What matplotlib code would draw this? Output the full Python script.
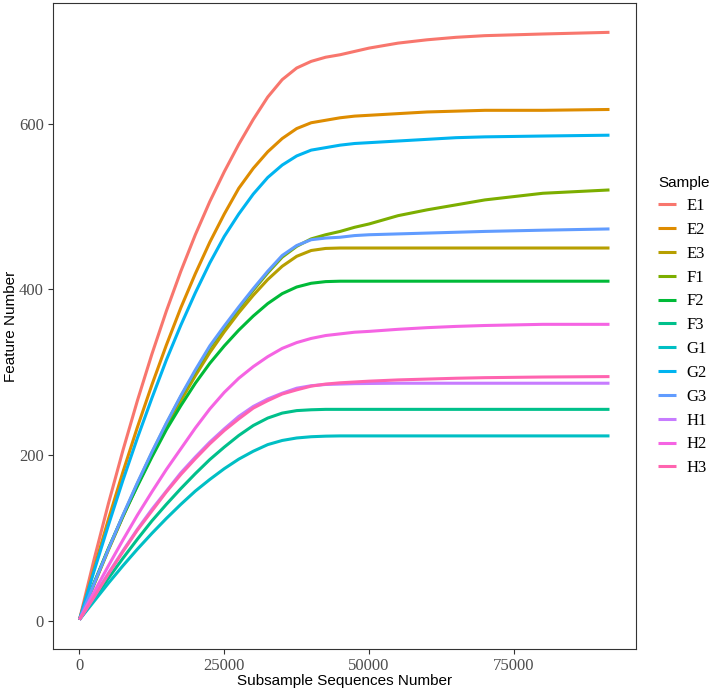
import matplotlib
matplotlib.use("Agg")
import matplotlib.pyplot as plt

# subsample depth (x) shared by every sample
depth = [0, 2500, 5000, 7500, 10000, 12500, 15000, 17500, 20000, 22500, 25000,
         27500, 30000, 32500, 35000, 37500, 40000, 42500, 45000, 47500, 50000,
         55000, 60000, 65000, 70000, 80000, 91500]

samples = ["E1", "E2", "E3", "F1", "F2", "F3", "G1", "G2", "G3", "H1", "H2", "H3"]

E1 = [2, 74, 142, 206, 266, 322, 374, 422, 466, 506, 542, 575, 605, 632, 653, 667, 675,
      680, 683, 687, 691, 697, 701, 704, 706, 708, 710]
E2 = [2, 63, 123, 180, 234, 285, 333, 378, 419, 457, 491, 522, 546, 566, 582, 594, 601,
      604, 607, 609, 610, 612, 614, 615, 616, 616, 617]
E3 = [2, 44, 86, 126, 164, 200, 234, 266, 296, 324, 349, 372, 393, 412, 428, 440, 447,
      449.5, 450, 450, 450, 450, 450, 450, 450, 450, 450]
F1 = [2, 45, 87, 127, 166, 203, 238, 271, 301, 330, 354, 377, 399, 420, 439, 452, 461,
      466, 470, 475, 479, 489, 496, 502, 508, 516, 520]
F2 = [2, 46, 88, 127, 163, 198, 231, 260, 287, 311, 332, 351, 368, 383, 395, 403, 407.5,
      409.5, 410, 410, 410, 410, 410, 410, 410, 410, 410]
F3 = [2, 27, 52, 76, 99, 121, 141, 160, 178, 195, 210, 224, 236, 245, 251, 254, 255,
      255.5, 255.5, 255.5, 255.5, 255.5, 255.5, 255.5, 255.5, 255.5, 255.5]
G1 = [2, 24, 46, 67, 87, 106, 124, 141, 157, 171, 184, 195.5, 205, 213, 218, 221, 222.5,
      223.2, 223.5, 223.5, 223.5, 223.5, 223.5, 223.5, 223.5, 223.5, 223.5]
G2 = [2, 60, 116, 170, 221, 269, 315, 357, 396, 432, 464, 491, 515, 535, 550, 561, 568,
      571, 574, 576, 577, 579, 581, 583, 584, 585, 586]
G3 = [2, 45, 87, 128, 167, 204, 239, 272, 303, 332, 356, 379, 401, 422, 441, 453, 460,
      462, 463, 465, 466, 467, 468, 469, 470, 471.5, 473]
H1 = [2, 30, 58, 85, 111, 135, 157, 179, 198, 216, 232, 247, 259, 268, 275, 281, 284,
      285.5, 286, 286.5, 286.7, 287, 287, 287, 287, 287, 287]
H2 = [2, 35, 67, 98, 128, 156, 183, 208, 233, 256, 276, 293, 307, 319, 329, 336, 341,
      344.5, 346.5, 348.5, 349.5, 352, 354, 355.5, 356.6, 358, 358]
H3 = [2, 29, 57, 84, 110, 133, 156, 177, 196, 214, 230, 244, 257, 266, 274, 279, 283.5,
      286, 287.5, 288.5, 289.5, 291, 292, 293, 293.7, 294.5, 295]

series = [E1, E2, E3, F1, F2, F3, G1, G2, G3, H1, H2, H3]

# ggplot default hue palette for 12 levels
colors = ["#F8766D", "#DE8C00", "#B79F00", "#7CAE00", "#00BA38", "#00C08B",
          "#00BFC4", "#00B4F0", "#619CFF", "#C77CFF", "#F564E3", "#FF64B0"]

xticks = [0, 25000, 50000, 75000]
yticks = [0, 200, 400, 600]

fig = plt.figure(figsize=(7.11, 6.90), dpi=100)
ax = fig.add_axes([0.0745, 0.0594, 0.82, 0.9363])

for name, vals, c in zip(samples, series, colors):
    ax.plot(depth, vals, color=c, lw=2.2, label=name, solid_capstyle="butt",
            solid_joinstyle="round")

xr = max(depth) - min(depth)
ax.set_xlim(min(depth) - 0.05 * xr, max(depth) + 0.05 * xr)
ymax = max(max(s) for s in series)
ymin = min(min(s) for s in series)
yr = ymax - ymin
ax.set_ylim(ymin - 0.05 * yr, ymax + 0.05 * yr)

ax.set_xticks(xticks)
ax.set_xticklabels([str(t) for t in xticks])
ax.set_yticks(yticks)
ax.set_yticklabels([str(t) for t in yticks])

for sp in ax.spines.values():
    sp.set_color("#333333")
    sp.set_linewidth(0.8)
ax.tick_params(colors="#333333", length=3.5, width=0.8, labelsize=12,
               labelcolor="#4D4D4D", pad=3)
for lab in ax.get_xticklabels() + ax.get_yticklabels():
    lab.set_family("Liberation Serif")

ax.set_xlabel("Subsample Sequences Number", fontsize=11, family="Liberation Sans",
              labelpad=0)
ax.set_ylabel("Feature Number", fontsize=11, family="Liberation Sans", labelpad=1)

leg = ax.legend(title="Sample", loc="upper left", bbox_to_anchor=(1.027, 0.742),
                frameon=False, handlelength=1.05, handletextpad=0.65,
                labelspacing=0.47, borderaxespad=0,
                prop={"family": "Liberation Serif", "size": 12})
leg.get_title().set_family("Liberation Sans")
leg.get_title().set_fontsize(11)
leg._legend_box.align = "left"

fig.savefig("out.png", dpi=100)
